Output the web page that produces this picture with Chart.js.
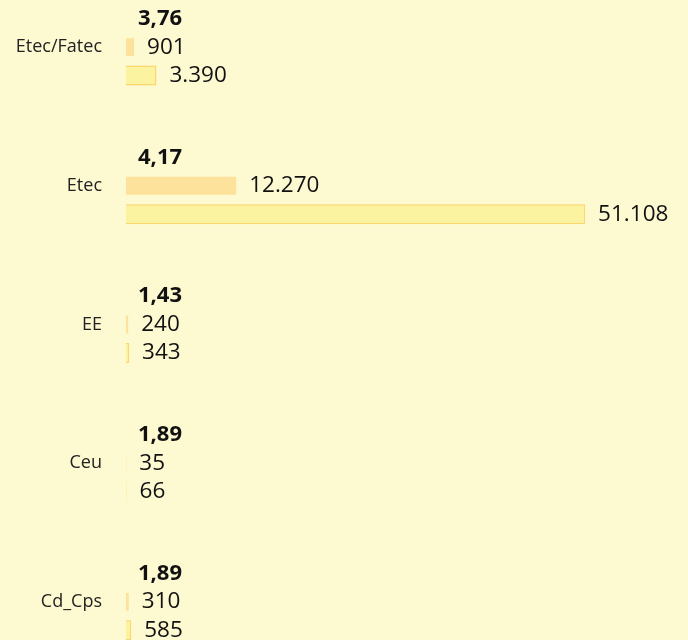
<!DOCTYPE html>
<html>
<head>
<meta charset="utf-8">
<script src="https://cdn.jsdelivr.net/npm/chart.js@4.4.0/dist/chart.umd.min.js"></script>
<style>
  html, body { margin: 0; padding: 0; background: #fdf9d0; overflow: hidden; }
  #chart { position: absolute; left: 0; top: -57px; }
</style>
</head>
<body>
<canvas id="chart" width="688" height="763"></canvas>
<script>
// dados
const categorias = ['Etec/Fatec', 'Etec', 'EE', 'Ceu', 'Cd_Cps'];
const razao = [3.76, 4.17, 1.43, 1.89, 1.89];
const serieA = [901, 12270, 240, 35, 310];
const serieB = [3390, 51108, 343, 66, 585];
const eixoMax = 60000;

function fmtMil(v) {
    return String(v).replace(/\B(?=(\d{3})+(?!\d))/g, '.');
}
function fmtDec(v) {
    return v.toFixed(2).replace('.', ',');
}

// rótulos ao lado das barras
const rotulos = {
    id: 'rotulos',
    afterDatasetsDraw(chart) {
        const c = chart.ctx;
        c.save();
        c.textBaseline = 'middle';
        c.textAlign = 'left';
        c.fillStyle = '#111';
        chart.data.datasets.forEach((ds, i) => {
            const meta = chart.getDatasetMeta(i);
            meta.data.forEach((bar, j) => {
                const v = ds.data[j];
                if (i === 0) {
                    c.font = 'bold 22px "Open Sans"';
                    c.fillText(fmtDec(v), bar.x + 12, bar.y);
                } else {
                    c.font = '22.5px "Open Sans"';
                    c.fillText(fmtMil(v), bar.x + 13, bar.y);
                }
            });
        });
        c.restore();
    }
};

new Chart(document.getElementById('chart'), {
    type: 'bar',
    data: {
        labels: categorias,
        datasets: [
            {
                data: razao,
                backgroundColor: '#fefbe2',
                barPercentage: 0.66,
                categoryPercentage: 0.615
            },
            {
                data: serieA,
                backgroundColor: '#fde29b',
                barPercentage: 0.63,
                categoryPercentage: 0.615
            },
            {
                data: serieB,
                backgroundColor: '#fbf3a0',
                borderColor: '#fdd76a',
                borderWidth: 1.5,
                barPercentage: 0.7,
                categoryPercentage: 0.615
            }
        ]
    },
    options: {
        indexAxis: 'y',
        responsive: false,
        animation: false,
        layout: { padding: { left: 0, right: 23, top: 0, bottom: 0 } },
        scales: {
            x: {
                display: false,
                min: 0,
                max: eixoMax
            },
            y: {
                grid: { display: false, drawTicks: false },
                border: { display: false },
                ticks: {
                    color: '#222',
                    padding: 24,
                    font: { family: 'Open Sans', size: 18 }
                },
                afterFit(scale) { scale.width = 126; }
            }
        },
        plugins: {
            legend: { display: false },
            tooltip: { enabled: false }
        }
    },
    plugins: [rotulos]
});
</script>
</body>
</html>
